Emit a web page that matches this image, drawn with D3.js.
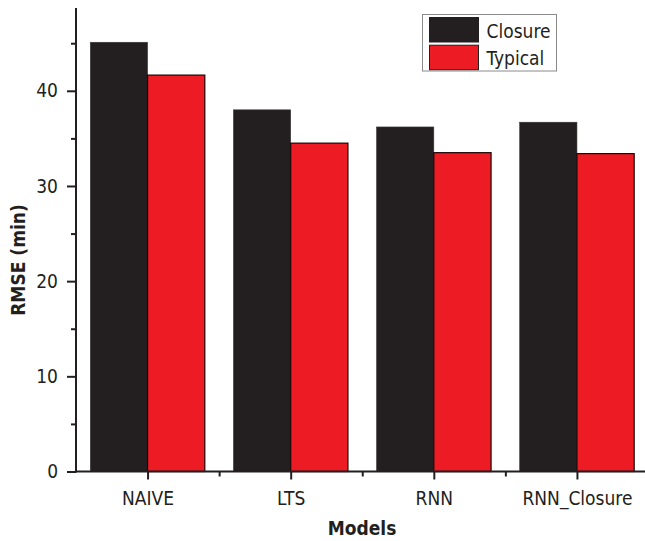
<!DOCTYPE html>
<html><head><meta charset="utf-8">
<script src="https://cdn.jsdelivr.net/npm/d3@7/dist/d3.min.js"></script>
<style>
body{margin:0;background:#fff;}
text{font-family:"DejaVu Sans Condensed","Liberation Sans Narrow",sans-serif;fill:#231f20;}
</style></head>
<body>
<svg id="c" width="645" height="541"></svg>
<script>
const categories = ["NAIVE", "LTS", "RNN", "RNN_Closure"];
const seriesNames = ["Closure", "Typical"];
const closureValues = [45.1, 38.0, 36.2, 36.7];
const typicalValues = [41.65, 34.5, 33.5, 33.4];
const yTicks = [0, 10, 20, 30, 40];
const yMinorTicks = [5, 15, 25, 35, 45];
const colors = ["#231f20", "#ed1c24"];

const svg = d3.select("#c");
const ink = "#231f20";

const x = d3.scaleLinear().domain([0.5, 4.5]).range([76, 648.5]);
const y = d3.scaleLinear().domain([0, 48.7]).range([471.5, 8]);
const step = x(2) - x(1);
const barW = step * 0.4;

const series = [closureValues, typicalValues];

series.forEach((vals, si) => {
  svg.append("g").selectAll("rect").data(vals).join("rect")
    .attr("x", (d, i) => x(i + 1) - barW + si * barW)
    .attr("y", d => y(d))
    .attr("width", barW)
    .attr("height", d => y(0) - y(d))
    .attr("fill", colors[si])
    .attr("stroke", si === 0 ? "#3a3637" : "#1a0505")
    .attr("stroke-width", si === 0 ? 0.6 : 1.2);
});

// y axis
const yAxis = d3.axisLeft(y).tickValues(yTicks).tickSize(9).tickPadding(9).tickFormat(d3.format("d"));
const gy = svg.append("g").attr("transform", "translate(76,0)").call(yAxis);
gy.select(".domain").remove();
gy.selectAll(".tick line").attr("stroke", ink).attr("stroke-width", 2);
gy.selectAll(".tick text").attr("font-size", 19).attr("fill", ink).attr("font-family", null);
const yMinor = d3.axisLeft(y).tickValues(yMinorTicks).tickSize(5).tickFormat("");
const gym = svg.append("g").attr("transform", "translate(76,0)").call(yMinor);
gym.select(".domain").remove();
gym.selectAll(".tick line").attr("stroke", ink).attr("stroke-width", 2);
svg.append("line").attr("x1", 76).attr("x2", 76).attr("y1", y.range()[1]).attr("y2", y(0) + 1)
  .attr("stroke", ink).attr("stroke-width", 2);

// x axis
const xAxis = d3.axisBottom(x).tickValues([1, 2, 3, 4]).tickSize(8).tickPadding(12)
  .tickFormat((d) => categories[d - 1]);
const gx = svg.append("g").attr("transform", `translate(0,${y(0)})`).call(xAxis);
gx.select(".domain").remove();
gx.selectAll(".tick line").attr("stroke", ink).attr("stroke-width", 2);
gx.selectAll(".tick text").attr("font-size", 19).attr("fill", ink).attr("font-family", null);
const xMinor = d3.axisBottom(x).tickValues([1.5, 2.5, 3.5]).tickSize(5).tickFormat("");
const gxm = svg.append("g").attr("transform", `translate(0,${y(0)})`).call(xMinor);
gxm.select(".domain").remove();
gxm.selectAll(".tick line").attr("stroke", ink).attr("stroke-width", 2);
svg.append("line").attr("x1", 75).attr("x2", 645).attr("y1", y(0)).attr("y2", y(0))
  .attr("stroke", ink).attr("stroke-width", 2);

// axis titles
svg.append("text").attr("x", 362).attr("y", 535).attr("text-anchor", "middle")
  .attr("font-size", 19).attr("font-weight", "bold").text("Models");
svg.append("text").attr("transform", "translate(25,260) rotate(-90)").attr("text-anchor", "middle")
  .attr("font-size", 19).attr("font-weight", "bold").text("RMSE (min)");

// legend
const lg = svg.append("g");
lg.append("rect").attr("x", 422.5).attr("y", 14.5).attr("width", 134).attr("height", 56.5)
  .attr("fill", "#fff").attr("stroke", "#8a8a8a").attr("stroke-width", 1);
seriesNames.forEach((n, i) => {
  lg.append("rect").attr("x", 429.5).attr("y", 17.5 + i * 27.7).attr("width", 49).attr("height", 24.5)
    .attr("fill", colors[i]).attr("stroke", "#231f20").attr("stroke-width", 1);
  lg.append("text").attr("x", 486.5).attr("y", 37.5 + i * 27.7).attr("font-size", 19).text(n);
});
</script>
</body></html>
